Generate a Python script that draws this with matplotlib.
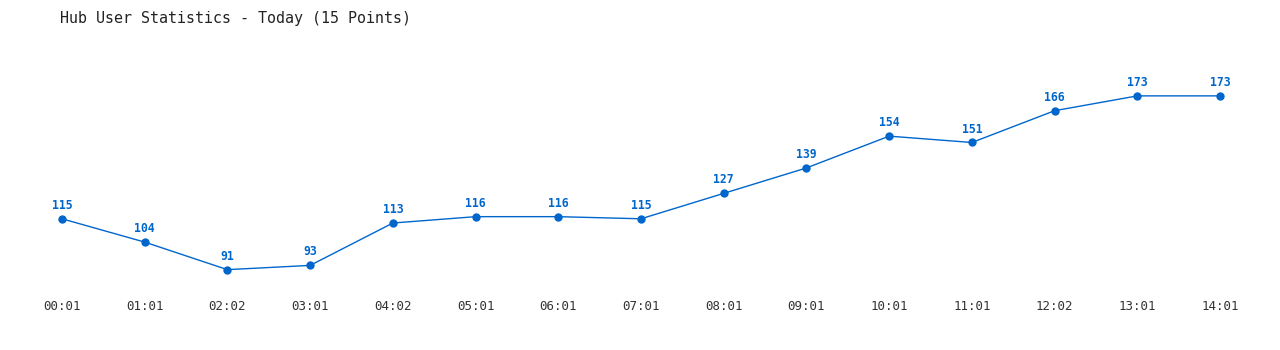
import matplotlib
matplotlib.use("Agg")
import matplotlib.pyplot as plt

times = ['00:01', '01:01', '02:02', '03:01', '04:02', '05:01', '06:01', '07:01',
         '08:01', '09:01', '10:01', '11:01', '12:02', '13:01', '14:01']
users = [115, 104, 91, 93, 113, 116, 116, 115, 127, 139, 154, 151, 166, 173, 173]

blue = '#0066cc'
plt.rcParams['font.family'] = ['DejaVu Sans Mono']

fig = plt.figure(figsize=(12.8, 3.5), dpi=100)
ax = fig.add_axes([0.0161, 0.163, 0.9694, 0.666])
x = list(range(len(users)))
ax.plot(x, users, color=blue, lw=1, marker='o', ms=5)
for xi, v in zip(x, users):
    ax.annotate(str(v), (xi, v), xytext=(0, 5), textcoords='offset points',
                ha='center', va='bottom', color=blue, fontsize=8.3, fontweight='bold')

ax.set_xlim(-0.5, 14.5)
ax.set_ylim(80, 190)
ax.set_xticks(x)
ax.set_xticklabels(times, fontsize=9, color='#333333')
ax.tick_params(axis='x', length=0, pad=5)
ax.set_yticks([])
for s in ax.spines.values():
    s.set_visible(False)

fig.text(60 / 1280, 1 - 18 / 350, 'Hub User Statistics - Today (15 Points)',
         fontsize=10.8, color='#222222', ha='left', va='center')

fig.savefig('out.png', dpi=100)
